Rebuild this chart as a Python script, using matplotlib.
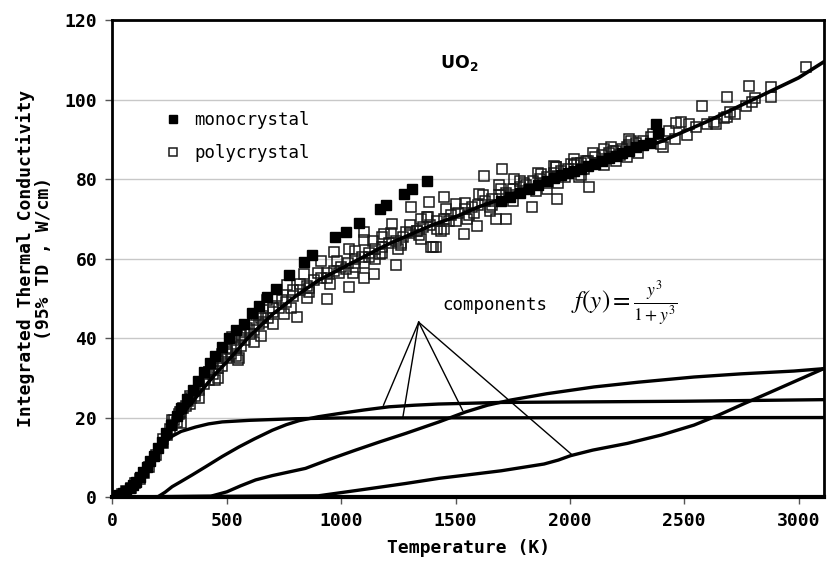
import matplotlib
matplotlib.use('Agg')
import matplotlib.pyplot as plt
import numpy as np

mono_T = [0, 15, 30, 45, 60, 75, 90, 105, 120, 135, 150, 165, 180, 200, 215, 235, 255, 280,
          300, 325, 350, 375, 400, 425, 450, 480, 510, 540, 574, 610, 640, 677, 717, 771,
          837, 873, 975, 1019, 1080, 1172, 1194, 1274, 1311, 1376,
          1700, 1740, 1780, 1820, 1860, 1900, 1930, 1960, 1990, 2020, 2050, 2080, 2110,
          2140, 2170, 2200, 2230, 2260, 2290, 2320, 2350, 2376, 2385]
mono_k = [0.1, 0.3, 0.6, 1.0, 1.5, 2.2, 3.0, 3.9, 5.0, 6.2, 7.6, 9.0, 10.4, 12.3, 13.9, 16.0, 18.2, 20.5,
          22.3, 24.6, 27.0, 29.3, 31.5, 33.6, 35.5, 37.8, 40.0, 42.0, 43.6, 46.2, 48.0, 50.3, 52.4, 55.8,
          59.1, 60.8, 65.4, 66.7, 69.0, 72.5, 73.6, 76.3, 77.6, 79.6,
          74.5, 75.5, 76.5, 77.5, 78.5, 79.5, 80.2, 81.0, 81.5, 82.0, 82.6, 83.2, 83.8,
          84.6, 85.2, 85.8, 86.5, 87.2, 88.0, 88.5, 89.0, 93.8, 91.5]

poly_T = [20, 40, 60, 80, 100, 120, 140, 160, 190, 220, 250, 270, 290, 297, 310, 330, 345, 360,
          380, 407, 420, 440, 460, 480, 500, 523, 531, 553, 560, 590, 626, 650, 677, 700, 720,
          764, 790, 808, 837, 860, 910, 939, 968, 990, 1034, 1034, 1060, 1099, 1099, 1099, 1120,
          1143, 1172, 1180, 1187, 1224, 1238, 1260, 1282, 1304, 1330, 1350, 1376, 1384, 1391,
          1400, 1413, 1435, 1449, 1470, 1500, 1537, 1560, 1595, 1602, 1624, 1650, 1675, 1690,
          1705, 1719, 1740, 1756, 1800, 1836, 1872, 1900, 1931, 1938, 1945, 2003, 2030, 2040,
          2071, 2084, 2110, 2149, 2189, 2200, 2251, 2266, 2300, 2353, 2363, 2397, 2407, 2434,
          2460, 2466, 2485, 2514, 2522, 2550, 2580, 2600, 2630, 2638, 2675, 2689, 2689, 2700,
          2720, 2772, 2783, 2798, 2810, 2878, 2878, 3031]
poly_k = [0.3, 0.7, 1.4, 2.3, 3.4, 4.6, 6.0, 7.6, 10.5, 13.5, 17.0, 19.5, 21.0, 21.4, 22.5, 24.2, 25.0, 26.8,
          28.0, 31.1, 31.5, 33.5, 34.3, 36.0, 37.2, 40.3, 39.4, 35.0, 40.8, 42.5, 45.7, 45.0, 49.5, 47.5, 50.5,
          53.3, 52.0, 45.3, 56.2, 52.5, 59.5, 49.9, 61.6, 56.5, 52.8, 62.5, 58.0, 55.0, 64.6, 66.7, 60.5,
          56.2, 61.2, 65.4, 66.2, 68.8, 58.3, 63.5, 66.7, 72.9, 67.0, 70.0, 70.4, 74.2, 62.9,
          62.9, 62.9, 67.0, 75.5, 69.5, 73.8, 66.3, 71.0, 68.3, 76.3, 80.9, 73.0, 70.0, 78.4,
          82.6, 70.0, 76.0, 80.1, 79.0, 72.9, 81.3, 77.5, 83.4, 83.0, 75.0, 83.8, 84.0, 80.5,
          84.6, 78.0, 84.0, 87.6, 87.1, 84.5, 88.0, 89.7, 86.5, 90.5, 91.3, 88.9, 88.0, 92.2,
          90.0, 94.2, 94.3, 91.0, 94.0, 93.0, 98.5, 94.0, 94.3, 93.9, 95.5, 100.6, 95.6, 97.0,
          96.5, 98.4, 103.5, 99.3, 100.5, 103.1, 100.6, 108.1]

# Polycrystal points packed inside the dense band
band_T = [220, 240, 260, 280, 300, 320, 340, 360, 380, 400, 420, 440, 460, 480, 500, 520, 540,
          560, 580, 600, 620, 640, 660, 680, 700, 730, 760, 790, 820, 850, 880, 910, 940, 970,
          1000, 1030, 1060, 1090, 1120, 1150, 1180, 1210, 1240, 1270, 1300, 1330, 1360, 1390,
          1420, 1450, 1480, 1510, 1540, 1570, 1600, 1630, 1660, 1690, 1720, 1750, 1780, 1810,
          1840, 1870, 1900, 1930, 1960, 1990, 2020, 2050, 2080, 2110, 2140, 2170, 2200, 2230,
          2260, 2290, 2320,
          450, 550, 650, 750, 850, 950, 1050, 1150, 1250, 1350, 1450, 1550, 1650, 1750, 1850,
          1950, 2050, 2150, 2250,
          260, 340, 420, 500, 580, 660, 740, 820, 900, 980, 1060, 1140, 1220, 1300, 1380, 1460,
          1540, 1620, 1700, 1780, 1860, 1940, 2020, 2100, 2180, 2260,
          300, 380, 460, 540, 620, 700, 780, 860, 940, 1020, 1100, 1180, 1260, 1340, 1420, 1500,
          1580, 1660, 1740, 1820, 1900, 1980, 2060, 2140, 2220]
band_k = [14.5, 15.5, 18.0, 19.0, 21.5, 23.0, 23.5, 25.5, 27.0, 28.5, 29.5, 31.0, 32.5, 33.0, 35.0,
          36.0, 37.5, 38.0, 39.5, 41.0, 42.0, 43.5, 44.0, 45.0, 46.5, 47.5, 49.0, 50.5, 52.0, 53.0,
          54.5, 55.0, 56.5, 57.0, 58.0, 59.0, 60.0, 60.5, 61.5, 62.5, 63.0, 64.0, 64.5, 65.5, 66.5,
          67.0, 68.0, 68.5, 69.5, 70.0, 71.0, 71.5, 72.5, 73.0, 73.5, 74.5, 75.0, 76.0, 76.5, 77.5,
          78.0, 78.5, 79.5, 80.0, 80.5, 81.5, 82.0, 82.5, 83.5, 84.0, 84.5, 85.5, 86.0, 86.5, 87.0,
          87.5, 88.5, 89.0, 89.5,
          29.5, 34.5, 40.5, 46.0, 50.0, 53.5, 56.5, 60.0, 62.5, 65.0, 67.5, 70.0, 72.0, 74.5, 77.0,
          79.0, 81.0, 83.5, 85.5,
          19.5, 25.5, 31.5, 36.5, 41.5, 45.5, 49.5, 53.5, 56.5, 59.5, 62.0, 64.5, 66.5, 68.5, 70.5,
          72.5, 74.0, 76.0, 77.5, 79.5, 81.5, 83.0, 85.0, 86.5, 88.0, 90.0,
          18.5, 25.0, 30.0, 35.5, 39.0, 43.5, 47.5, 51.5, 55.0, 57.5, 59.0, 61.5, 64.0, 66.0, 67.5,
          69.5, 71.5, 73.5, 75.5, 77.5, 79.0, 80.5, 82.5, 84.5, 86.0]

# Fitted total curve
fit_T = [0, 50, 100, 150, 200, 250, 300, 350, 400, 450, 500, 600, 700, 800, 900, 1000, 1100,
         1200, 1300, 1400, 1500, 1600, 1700, 1800, 1900, 2000, 2200, 2400, 2500, 2600, 2800, 3000, 3110]
fit_k = [0, 0.5, 3, 7, 12, 16.5, 20.5, 24, 27.5, 31, 34, 40.5, 46, 50.5, 54.5, 57.5, 60.5,
         63.5, 66, 68.5, 70.5, 73, 75, 77.5, 79.5, 81.5, 85.5, 89.5, 92, 94.5, 100, 105.5, 109.5]

# Components
c1_T = [0, 50, 100, 150, 188, 220, 261, 300, 363, 420, 480, 600, 800, 1000, 3110]
c1_k = [0, 0.8, 3.3, 7.5, 11.0, 13.3, 15.3, 16.5, 17.6, 18.4, 18.9, 19.3, 19.7, 19.9, 20.0]
c2_T = [0, 197, 230, 261, 300, 350, 407, 480, 553, 620, 699, 760, 815, 900, 990, 1100, 1209,
        1320, 1426, 1700, 2500, 3110]
c2_k = [0, 0, 1.2, 2.6, 3.9, 5.6, 7.6, 10.2, 12.6, 14.6, 16.8, 18.2, 19.2, 20.2, 21.0, 21.9, 22.7,
        23.1, 23.4, 23.8, 24.1, 24.5]
c3_T = [0, 430, 500, 560, 626, 700, 844, 950, 1063, 1170, 1282, 1428, 1544, 1640, 1741, 1900,
        2106, 2300, 2543, 2750, 2980, 3110]
c3_k = [0, 0.2, 1.3, 2.8, 4.3, 5.4, 7.2, 9.5, 11.8, 13.9, 16.0, 18.9, 21.4, 23.1, 24.4, 26.0,
        27.7, 28.9, 30.2, 31.0, 31.7, 32.3]
c4_T = [0, 900, 1000, 1136, 1282, 1428, 1544, 1700, 1887, 1950, 2003, 2100, 2252, 2400, 2543,
        2650, 2762, 2870, 2980, 3110]
c4_k = [0, 0.3, 1.1, 2.2, 3.4, 4.7, 5.5, 6.6, 8.3, 9.3, 10.4, 11.8, 13.5, 15.6, 18.1, 20.6,
        23.5, 26.2, 29.0, 32.3]

# leader lines for "components"
apex = (1339, 44)
leader_ends = [(1185, 23.1), (1269, 19.8), (1531, 21.8), (2012, 10.5)]

plt.rcParams['font.family'] = ['DejaVu Sans Mono']

fig = plt.figure(figsize=(8.27, 5.71), dpi=100)
ax = fig.add_axes([0.136, 0.1296, 0.860, 0.835])

ax.set_xlim(0, 3110)
ax.set_ylim(0, 120)
ax.set_xticks(np.arange(0, 3001, 500))
ax.set_yticks(np.arange(0, 121, 20))
ax.yaxis.grid(True, color='#c8c8c8', linewidth=1)
ax.set_axisbelow(True)

sq = dict(linestyle='none', marker='s', markersize=7)
ax.plot(band_T, band_k, markerfacecolor='none', markeredgecolor='#1a1a1a',
        markeredgewidth=1.1, zorder=2, **sq)
ax.plot(poly_T, poly_k, markerfacecolor='none', markeredgecolor='#1a1a1a',
        markeredgewidth=1.1, label='polycrystal', zorder=2, **sq)
ax.plot(mono_T, mono_k, markerfacecolor='black', markeredgecolor='black',
        label='monocrystal', zorder=3, **sq)

for T, k in [(c1_T, c1_k), (c2_T, c2_k), (c3_T, c3_k), (c4_T, c4_k)]:
    ax.plot(T, k, color='black', linewidth=2.4, zorder=4)
ax.plot(fit_T, fit_k, color='black', linewidth=2.6, zorder=5)

for x1, y1 in leader_ends:
    ax.plot([apex[0], x1], [apex[1], y1], color='black', linewidth=1.0, zorder=5)

ax.text(1672, 48.2, 'components', fontsize=12.5, ha='center', va='center')
ax.text(2238, 48.5, r'$f\left(y\right)=\frac{y^3}{1+y^3}$', fontsize=18,
        math_fontfamily='stix', ha='center', va='center')
ax.text(1517, 109.2, r'$\mathbf{UO_2}$', fontsize=12.5, ha='center', va='center',
        math_fontfamily='dejavusans')

handles, labels = ax.get_legend_handles_labels()
ax.legend(handles[::-1], labels[::-1], loc='upper left', bbox_to_anchor=(0.073, 0.81),
          frameon=False, fontsize=12.5, handlelength=1.0, handletextpad=0.7,
          labelspacing=0.9, borderpad=0, borderaxespad=0, markerscale=0.9)

for side in ['top', 'right', 'left']:
    ax.spines[side].set_linewidth(2)
ax.spines['bottom'].set_linewidth(3)
ax.tick_params(axis='both', direction='out', length=5, width=1, color='#555555',
               labelsize=13, pad=6)
for lab in ax.get_xticklabels() + ax.get_yticklabels():
    lab.set_fontweight('bold')

ax.set_xlabel('Temperature (K)', fontsize=13, fontweight='bold', labelpad=6)
ax.set_ylabel('Integrated Thermal Conductivity\n(95% TD , W/cm)', fontsize=13,
              fontweight='bold', labelpad=8, linespacing=1.0)

fig.savefig('out.png', dpi=100)
